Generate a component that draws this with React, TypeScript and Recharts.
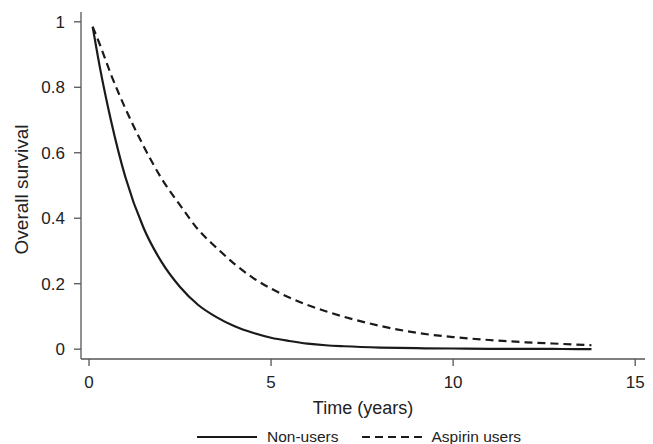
import React from "react";
import { LineChart, Line, XAxis, YAxis, Legend } from "recharts";

const timeYears = [0.1, 0.3, 0.6, 1.0, 1.5, 2.0, 2.5, 3.0, 3.5, 4.0, 4.5, 5.0, 5.5, 6.0, 6.5, 7.0, 8.0, 9.0, 10, 11, 12, 13, 13.8];
const nonUsers = [0.985, 0.86, 0.70, 0.525, 0.37, 0.265, 0.19, 0.135, 0.098, 0.07, 0.05, 0.035, 0.025, 0.017, 0.012, 0.009, 0.005, 0.003, 0.002, 0.001, 0.001, 0.0005, 0.0];
const aspirinUsers = [0.985, 0.93, 0.84, 0.735, 0.62, 0.52, 0.44, 0.365, 0.31, 0.26, 0.218, 0.185, 0.158, 0.135, 0.116, 0.099, 0.071, 0.05, 0.037, 0.028, 0.021, 0.016, 0.012];

const xTicks = [0, 5, 10, 15];
const yTicks = [0, 0.2, 0.4, 0.6, 0.8, 1];
const seriesNames = ["Non-users", "Aspirin users"];
const xTitle = "Time (years)";
const yTitle = "Overall survival";

const data = timeYears.map((t, i) => ({ t, nonUsers: nonUsers[i], aspirin: aspirinUsers[i] }));

const FONT = "'Liberation Sans', Arial, Helvetica, sans-serif";
const INK = "#222";
const AXIS = "#555";

const LegendContent = (props: any) => {
  const payload = [...(props.payload || [])].sort(
    (a: any, b: any) => seriesNames.indexOf(a.value) - seriesNames.indexOf(b.value)
  );
  return (
    <div style={{ display: "flex", alignItems: "center", height: 18, paddingLeft: 197, fontFamily: FONT, fontSize: 15.5, color: INK, whiteSpace: "nowrap" }}>
      {payload.map((entry: any, i: number) => {
        const dash = entry.payload && entry.payload.strokeDasharray;
        const w = i === 0 ? 60 : 63;
        return (
          <React.Fragment key={i}>
            <svg width={w} height={6} style={{ marginLeft: i === 0 ? 0 : 23, display: "block" }}>
              <line x1={0} y1={3} x2={w} y2={3} stroke="#1a1a1a" strokeWidth={2.2} strokeDasharray={dash} />
            </svg>
            <span style={{ marginLeft: i === 0 ? 10 : 7 }}>{entry.value}</span>
          </React.Fragment>
        );
      })}
    </div>
  );
};

export default function App() {
  return (
    <div style={{ position: "absolute", left: 0, top: 0, width: 653, height: 444, background: "#fff" }}>
      <LineChart width={653} height={444} data={data} margin={{ top: 12, right: 8, bottom: 45, left: 21 }}>
        <XAxis
          dataKey="t"
          type="number"
          domain={[-0.22, 15.27]}
          ticks={xTicks}
          allowDataOverflow
          height={40}
          tickSize={7}
          tickMargin={10}
          stroke={AXIS}
          strokeWidth={1.3}
          tick={{ fill: INK, fontSize: 17, fontFamily: FONT }}
          label={{ value: xTitle, position: "bottom", offset: 2, fill: INK, fontSize: 18, fontFamily: FONT }}
        />
        <YAxis
          type="number"
          domain={[-0.03, 1.03]}
          ticks={yTicks}
          allowDataOverflow
          width={60}
          tickSize={7}
          tickMargin={9}
          stroke={AXIS}
          strokeWidth={1.3}
          tick={{ fill: INK, fontSize: 17, fontFamily: FONT }}
          label={{
            value: yTitle,
            content: (p: any) => {
              const vb = p.viewBox || { x: 21, y: 12, width: 60, height: 347 };
              const x = vb.x + 7;
              const y = vb.y + vb.height / 2 + 4;
              return (
                <text x={x} y={y} transform={`rotate(-90, ${x}, ${y})`} textAnchor="middle" fill={INK} fontSize={19} fontFamily={FONT}>
                  {yTitle}
                </text>
              );
            },
          }}
        />
        <Line name={seriesNames[0]} dataKey="nonUsers" type="monotone" stroke="#1a1a1a" strokeWidth={2.2} dot={false} isAnimationActive={false} />
        <Line name={seriesNames[1]} dataKey="aspirin" type="monotone" stroke="#1a1a1a" strokeWidth={2.2} strokeDasharray="8 5" dot={false} isAnimationActive={false} />
        <Legend
          layout="horizontal"
          verticalAlign="middle"
          align="center"
          content={<LegendContent />}
          wrapperStyle={{ position: "absolute", top: 428, left: 0, width: 653 }}
        />
      </LineChart>
    </div>
  );
}
